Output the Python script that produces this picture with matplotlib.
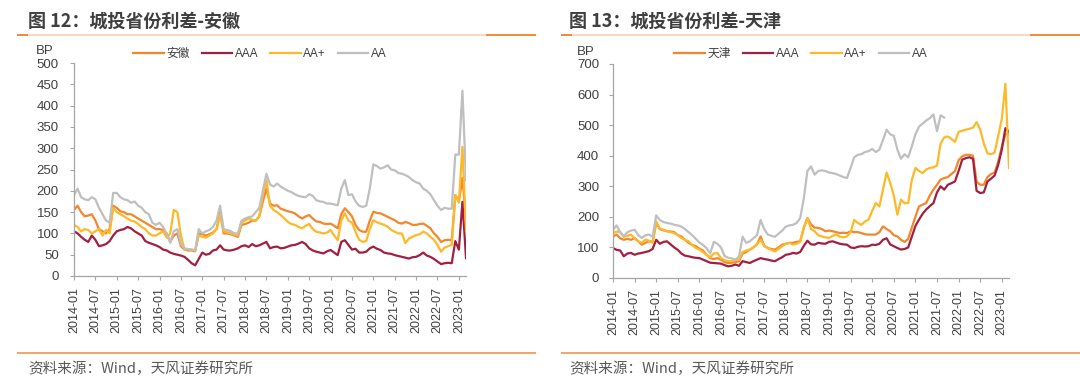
import numpy as np
import pandas as pd
import matplotlib
matplotlib.use('Agg')
import matplotlib.pyplot as plt
from matplotlib.lines import Line2D

plt.rcParams['font.family'] = ['Liberation Sans', 'Noto Sans CJK SC']

# ---------------- data ----------------
months = pd.date_range('2014-01-01', '2023-03-01', freq='MS')
tick_labels = [d.strftime('%Y-%m') for d in months[::6]]

# 安徽 panel
ah_prov = [155,165,150,140,142,145,130,110,105,100,110,165,
           160,152,150,145,145,140,135,130,125,120,115,110,
           110,108,100,80,95,100,70,62,60,60,58,100,
           98,95,98,102,110,150,100,100,98,95,92,120,
           122,125,130,130,140,175,205,170,165,166,158,155,
           152,150,147,140,135,140,143,135,128,127,123,122,
           123,118,112,145,159,150,140,120,108,104,104,130,
           151,148,147,143,139,135,131,125,123,127,124,120,
           120,122,123,118,112,100,92,80,84,85,84,190,
           175,230,127]
ah_aaa = [105,100,92,85,80,95,85,70,72,75,82,95,
          105,108,110,115,112,105,100,95,82,78,75,72,
          68,62,60,55,52,50,48,45,38,30,25,40,
          55,50,52,60,62,72,62,60,60,62,65,70,
          72,68,75,70,72,76,80,65,68,69,65,66,
          69,72,73,76,80,75,65,60,57,55,53,58,
          61,55,49,80,84,73,62,64,55,55,57,65,
          69,64,61,55,53,52,49,47,45,43,41,44,
          45,49,55,48,45,40,34,28,30,31,30,82,
          62,174,42]
ah_aap = [120,115,105,110,108,100,105,110,95,108,100,160,
          150,145,140,135,130,128,122,115,110,100,95,95,
          100,105,90,100,155,150,95,62,63,62,60,95,
          92,90,95,100,110,145,105,103,100,97,95,125,
          130,135,132,130,140,190,225,165,155,150,143,135,
          127,122,120,115,112,118,122,110,104,102,100,102,
          108,95,84,130,147,130,125,104,85,80,82,110,
          131,126,123,120,116,108,104,100,100,77,88,92,
          96,98,104,100,92,85,73,57,67,70,73,190,
          172,303,107]
ah_aa = [190,205,185,180,178,185,180,160,145,130,125,195,
         195,185,180,178,172,175,165,160,150,145,125,120,
         125,115,100,78,105,110,75,65,63,62,60,110,
         100,105,108,115,130,165,110,108,105,100,100,130,
         135,138,140,150,160,200,240,215,210,217,210,205,
         200,197,192,188,186,185,192,188,178,175,174,170,
         170,168,166,205,225,190,192,175,165,162,165,205,
         262,258,252,255,260,250,248,242,240,237,232,225,
         220,217,205,200,192,178,165,155,160,158,158,285,
         285,435,225]

# 天津 panel
tj_prov = [136,142,130,125,128,125,131,120,109,115,120,118,
           180,160,156,153,152,150,140,136,125,115,108,104,
           96,90,76,65,62,65,60,52,49,50,52,55,
           80,85,93,100,110,136,105,98,95,93,100,109,
           112,115,115,118,120,165,196,175,165,164,160,153,
           155,153,150,147,148,147,153,150,150,147,143,142,
           142,142,150,169,160,153,140,136,125,118,128,165,
           200,234,240,245,270,289,305,322,327,330,340,350,
           385,398,403,403,400,315,305,305,330,340,345,380,
           430,470,470]
tj_aaa = [98,92,90,71,80,82,76,80,82,85,88,95,
          125,112,118,120,110,100,92,80,73,71,68,66,
          65,60,55,50,49,48,47,42,38,40,44,40,
          55,52,49,55,60,65,62,60,57,55,62,68,
          76,78,82,80,85,105,122,110,109,115,113,112,
          118,120,116,112,110,109,100,98,102,104,103,104,
          109,108,112,125,130,110,104,98,93,95,100,135,
          170,191,210,224,235,245,280,300,289,305,310,316,
          350,387,392,395,390,285,278,280,315,325,335,370,
          420,490,478]
tj_aap = [147,152,150,135,138,142,130,120,115,125,122,115,
          185,162,158,153,150,147,140,131,125,120,108,98,
          93,85,76,68,80,82,65,58,55,55,58,60,
          85,90,93,100,110,125,105,98,92,87,95,104,
          112,115,109,112,118,165,196,160,153,140,136,133,
          131,138,142,135,133,136,150,190,180,174,185,191,
          220,245,234,290,345,311,270,207,256,245,245,320,
          360,350,343,355,360,362,368,440,460,463,455,445,
          478,482,485,488,492,510,485,440,408,405,410,465,
          520,635,360]
tj_aa = [158,172,150,136,150,155,158,140,131,140,142,135,
         205,190,183,180,178,174,172,168,160,150,140,128,
         116,108,98,80,118,112,100,72,66,64,60,70,
         135,115,120,130,140,190,160,142,138,135,145,155,
         168,172,174,180,196,260,350,365,338,350,352,350,
         345,343,340,335,330,327,360,395,403,405,412,415,
         422,412,420,452,485,470,465,420,390,405,395,430,
         470,495,505,515,523,535,480,532,525] + [np.nan] * 18

series_labels_ah = ['安徽', 'AAA', 'AA+', 'AA']
series_labels_tj = ['天津', 'AAA', 'AA+', 'AA']
colors = ['#f4862c', '#a31f40', '#fdb927', '#bfbfbf']

# ---------------- layout ----------------
W, H = 1080, 379
fig = plt.figure(figsize=(W / 100, H / 100), dpi=100)

def rect(x0, x1, y0, y1):
    return [x0 / W, 1 - y1 / H, (x1 - x0) / W, (y1 - y0) / H]

ax1 = fig.add_axes(rect(74, 466, 63, 276))
ax2 = fig.add_axes(rect(613, 1009, 64, 278))

TXT = '#404040'
AXC = '#a6a6a6'

def draw(ax, data, labels, ymax, ystep, ypad):
    x = np.arange(len(months))
    for vals, lab, col in zip(data, labels, colors):
        ax.plot(x, np.array(vals, dtype=float), color=col, lw=1.6, label=lab,
                solid_joinstyle='round')
    ax.set_xlim(0, len(months) - 1)
    ax.set_ylim(0, ymax)
    ax.set_yticks(np.arange(0, ymax + 1, ystep))
    ax.set_xticks(x[::6])
    ax.set_xticklabels(tick_labels, rotation=90)
    for s in ['top', 'right']:
        ax.spines[s].set_visible(False)
    for s in ['left', 'bottom']:
        ax.spines[s].set_color(AXC)
        ax.spines[s].set_linewidth(0.9)
    ax.tick_params(axis='y', length=3, width=0.8, color=AXC, labelsize=9.5,
                   labelcolor=TXT, pad=ypad)
    ax.tick_params(axis='x', length=3, width=0.8, color=AXC, labelsize=9,
                   labelcolor=TXT, pad=5)
    return ax

draw(ax1, [ah_prov, ah_aaa, ah_aap, ah_aa], series_labels_ah, 500, 50, 8)
draw(ax2, [tj_prov, tj_aaa, tj_aap, tj_aa], series_labels_tj, 700, 100, 7)

# BP unit labels
fig.text(45 / W, 1 - 51 / H, 'BP', ha='center', va='center', fontsize=9.5, color=TXT)
fig.text(586 / W, 1 - 52 / H, 'BP', ha='center', va='center', fontsize=9.5, color=TXT)

# legends
for ax, cx in [(ax1, 260), (ax2, 801)]:
    h, l = ax.get_legend_handles_labels()
    fig.legend(h, l, loc='center', bbox_to_anchor=(cx / W, 1 - 54 / H), ncol=4,
               frameon=False, fontsize=8.5, handlelength=2.6, handletextpad=0.2,
               columnspacing=1.0, labelcolor=TXT)

# titles
fig.text(28 / W, 1 - 21 / H, '图 12：城投省份利差-安徽', ha='left', va='center',
         fontsize=13, fontweight='bold', color='#3f3f3f',
         family=['Noto Sans CJK SC'])
fig.text(569 / W, 1 - 21 / H, '图 13：城投省份利差-天津', ha='left', va='center',
         fontsize=13, fontweight='bold', color='#3f3f3f',
         family=['Noto Sans CJK SC'])

# header rules (two-tone)
DARK = '#f07d21'
LIGHT = '#fbcfae'
def hline(x0, x1, y, col, lw):
    fig.add_artist(Line2D([x0 / W, x1 / W], [1 - y / H, 1 - y / H], color=col,
                          lw=lw, transform=fig.transFigure, solid_capstyle='butt'))

for a, b in [(17, 536), (561, 1080)]:
    hline(a, b, 34.5, LIGHT, 1.2)
    hline(a, a + 11, 34.5, DARK, 1.2)
    hline(b - 50, b, 34.5, DARK, 1.2)
    hline(a, b, 352.5, '#f28a3a', 1.1)

# source notes
fig.text(28 / W, 1 - 369 / H, '资料来源：Wind，天风证券研究所', ha='left', va='center',
         fontsize=10.5, color='#595959', family=['Noto Sans CJK SC'])
fig.text(569 / W, 1 - 369 / H, '资料来源：Wind，天风证券研究所', ha='left', va='center',
         fontsize=10.5, color='#595959', family=['Noto Sans CJK SC'])

fig.savefig('out.png', dpi=100)
